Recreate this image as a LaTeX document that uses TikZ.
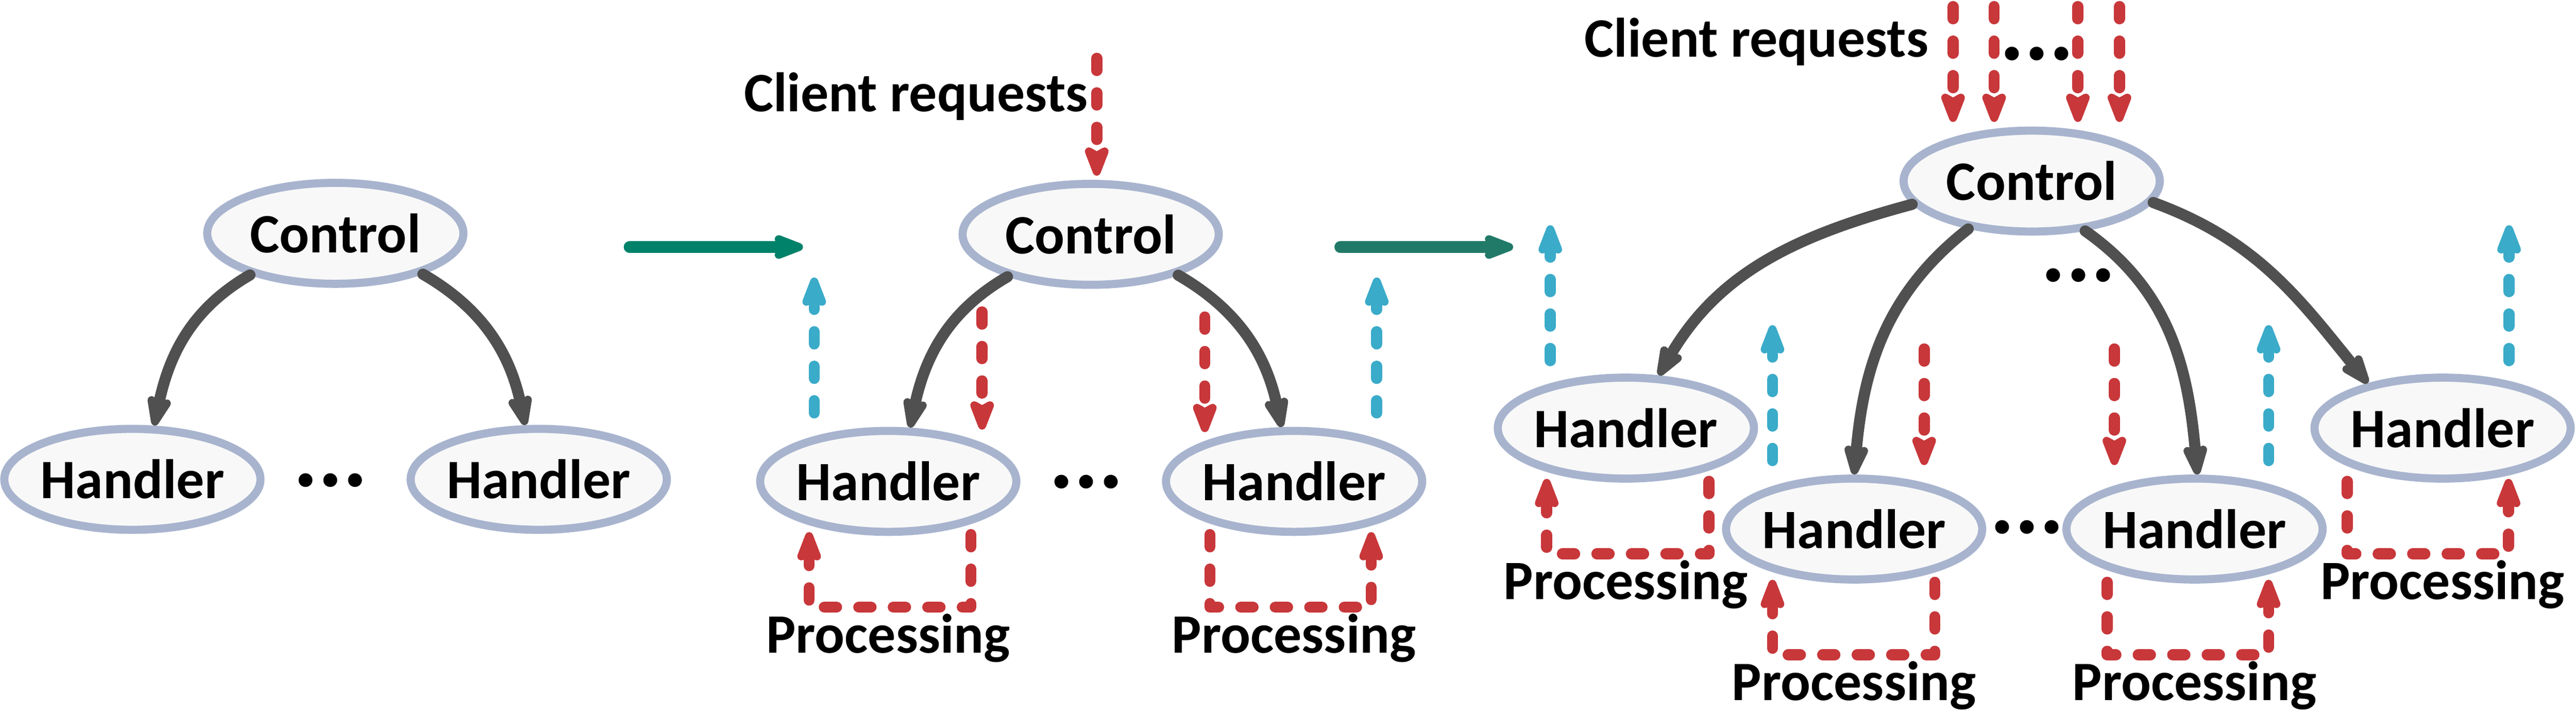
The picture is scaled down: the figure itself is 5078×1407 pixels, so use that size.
\documentclass[tikz,border=0pt]{standalone}
\usepackage{fontspec}
\setmainfont{Carlito}
\usepackage[HTML]{xcolor}
\usepackage{tikz}
\usetikzlibrary{positioning, arrows.meta, shapes.geometric, calc}

\definecolor{nodeline}{HTML}{A8B4CE}
\definecolor{nodefill}{HTML}{F8F8F8}
\definecolor{ctrlgray}{HTML}{505050}
\definecolor{reqred}{HTML}{C8373A}
\definecolor{respblue}{HTML}{3AABC9}
\definecolor{stepgreen}{HTML}{00826A}
\definecolor{stepgreenb}{HTML}{217A68}

\tikzset{
  proc/.style={ellipse, draw=nodeline, fill=nodefill, line width=0.8mm,
    minimum width=25.25mm, minimum height=9.95mm, inner xsep=-0.25mm, inner ysep=0pt,
    font=\fontsize{15.6}{18}\selectfont\bfseries},
  lbl/.style={inner sep=0pt, font=\fontsize{15.6}{18}\selectfont\bfseries},
  dots/.style={inner sep=0pt, font=\fontsize{26}{28}\selectfont\bfseries},
  headtip/.style={-{Stealth[length=3.9mm, width=2.9mm, inset=0.75mm, round]}},
  ctrl/.style={headtip, color=ctrlgray, line width=1.1mm, line cap=round},
  dashline/.style={line width=1.1mm, line cap=round, line join=round,
    dash pattern=on 1.2mm off 2.2mm},
  req/.style={headtip, dashline, color=reqred},
  resp/.style={headtip, dashline, color=respblue},
  move/.style={headtip, line width=1.15mm, line cap=round}
}

\begin{document}
\begin{tikzpicture}[x=0.05mm, y=0.05mm]
\useasboundingbox (0,0) rectangle (5078,1407);
% One handler
\node[proc] (C1) at (661,947) {Control};
\node[proc] (H1a) at (261,462) {Handler};
\node[proc] (H1b) at (1062,462) {Handler};
\node[dots] (d1) at (652,460) {...};
\draw[ctrl] (C1.206) to[out=210, in=78] (H1a.68);
\draw[ctrl] (C1.335) to[out=-30, in=102] (H1b.104);
% Steps between
\coordinate (g1s) at (1241,920);
\coordinate (g1e) at (1583,920);
\draw[move, stepgreen] (g1s) -- (g1e);
\coordinate (g2s) at (2642,920);
\coordinate (g2e) at (2983,920);
\draw[move, stepgreenb] (g2s) -- (g2e);
% Requests through control
\node[proc] (C2) at (2150,945) {Control};
\node[proc] (H2a) at (1751,458) {Handler};
\node[proc] (H2b) at (2551,458) {Handler};
\node[dots] (d2) at (2141,457) {...};
\draw[ctrl] (C2.207) to[out=210, in=78] (H2a.68);
\draw[ctrl] (C2.335) to[out=-30, in=102] (H2b.103);
\node[lbl, anchor=base east] (cr2) at (2146,1187) {Client requests};
\coordinate (r2) at (2162,1292);
\draw[req, shorten >=0.4mm] (r2) -- (r2 |- C2.north);
% Many handlers
\node[proc] (C3) at (4005,1050) {Control};
\node[proc] (Ha) at (3205,563) {Handler};
\node[proc] (Hb) at (3655,364) {Handler};
\node[proc] (Hc) at (4326,364) {Handler};
\node[proc] (Hd) at (4815,563) {Handler};
\node[dots] (d3) at (3996,368) {...};
\node[dots] (d3m) at (4097,864) {...};
\node[dots] (d3t) at (4015,1301) {...};
\draw[ctrl] (C3.191) to[out=195, in=60] (Ha.58);
\draw[ctrl] (C3.217) to[out=218, in=85] (Hb.90);
\draw[ctrl] (C3.317) to[out=-35, in=95] (Hc.87);
\draw[ctrl] (C3.350) to[out=-20, in=129] (Hd.149);
\node[lbl, anchor=base east] (cr3) at (3803,1295) {Client requests};
\foreach \x [count=\i] in {3850,3931,4096,4178}{
  \coordinate (r3\i) at (\x,1394);
  \draw[req, shorten >=0.45mm] (r3\i) -- (r3\i |- C3.north);
}
% Dashed arrows to and from handlers
\foreach \x/\ya/\yb [count=\i] in {1936/792/560, 2375/782/555, 3793/719/490, 4168/719/490}{
  \coordinate (dn\i) at (\x,\ya);
  \coordinate (dn\i e) at (\x,\yb);
  \draw[req] (dn\i) -- (dn\i e);
}
\foreach \x/\ya/\yb [count=\i] in {1605/593/860, 2714/593/860, 3056/696/963, 3494/499/766, 4472/499/766, 4946/696/963}{
  \coordinate (up\i) at (\x,\ya);
  \coordinate (up\i e) at (\x,\yb);
  \draw[resp] (up\i) -- (up\i e);
}
% Processing loops
\foreach \h/\a/\b in {H2a/163/-156, H2b/-166/152, Ha/164/-156, Hb/159/-161, Hc/-172/146, Hd/-188/130}{
  \draw[req] ($(\h)+(\a,-105)$) -- ++(0,-143) -| ($(\h)+(\b,-100)$);
  \node[lbl, anchor=base] (p\h) at ($(\h)+(0,-338)$) {Processing};
}
\end{tikzpicture}
\end{document}
